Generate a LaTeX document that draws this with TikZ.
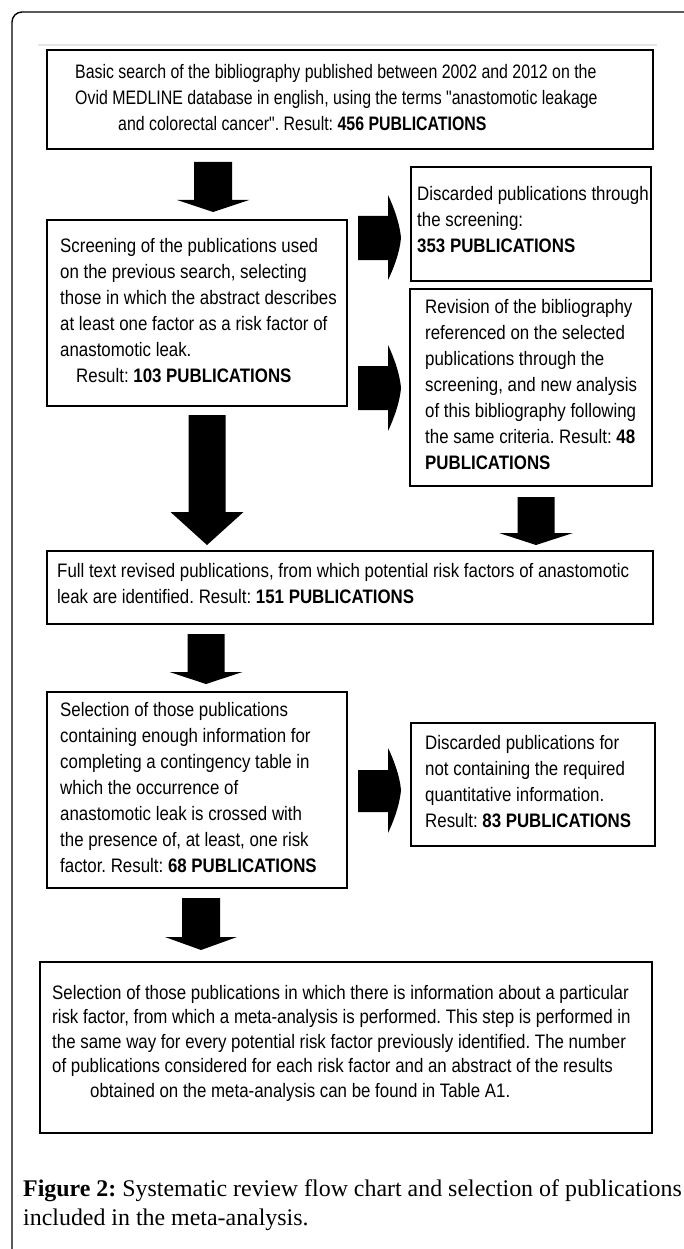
\documentclass[tikz,border=0pt]{standalone}
\usepackage{fontspec}
\newfontfamily\boxfont{Liberation Sans}[FakeStretch=0.865]
\newfontfamily\topboxfont{Liberation Sans}[FakeStretch=0.815]
\newfontfamily\capfont{Liberation Serif}
\frenchspacing
\tikzset{
  bx/.style={draw=black, line width=2.6pt, rectangle, inner sep=0pt},
  tx/.style={anchor=west, align=left, inner sep=0pt, font=\boxfont\fontsize{19.5}{26}\selectfont},
  captxt/.style={anchor=base west, inner sep=0pt, font=\capfont\fontsize{23.9}{30}\selectfont},
  blk/.style={fill=black},
}
\newcommand\blockdown[7]{% name, x, top, head base, tip, shaft half, head half
  \coordinate (#1s) at (#2,#3);
  \coordinate (#1e) at (#2,#5);
  \fill[blk] ({#2-#6},#3) -- ({#2+#6},#3) -- ({#2+#6},#4) -- ({#2+#7},#4) -- (#1e)
    -- ({#2-#7},#4) -- ({#2-#6},#4) -- cycle;}
\newcommand\blockright[9]{% name, shaft left x, head base x, tip x, shaft top, shaft bottom, head top, head bottom, tip y
  \coordinate (#1s) at (#2,{(#5+#6)/2});
  \coordinate (#1e) at (#4,#9);
  \fill[blk] (#2,#5) -- (#3,#5) -- (#3,#7)
    .. controls ({#3+0.4*(#4-#3)},{#7+0.25*(#9-#7)}) and ({#3+0.9*(#4-#3)},{#7+0.65*(#9-#7)}) .. (#1e)
    .. controls ({#3+0.9*(#4-#3)},{#9+0.35*(#8-#9)}) and ({#3+0.4*(#4-#3)},{#9+0.75*(#8-#9)}) .. (#3,#8)
    -- (#3,#6) -- (#2,#6) -- cycle;}
\begin{document}
\begin{tikzpicture}[x=1pt,y=-1pt]
\useasboundingbox (0,0) rectangle (683,1249);
\fill[white] (0,0) rectangle (683,1249);
% outer frame
\draw[line width=1.4pt, rounded corners=10pt] (12,1260) -- (12,12) -- (690,12);
\draw[black!10, line width=2pt] (38,45) -- (657,45);

% boxes
\node[bx, minimum width=606pt, minimum height=99pt] (b1) at (350,99.5) {};
\node[tx, font=\topboxfont\fontsize{19.5}{26}\selectfont] (t1) at (75,97.5) {Basic search of the bibliography published between 2002 and 2012 on the\\
Ovid MEDLINE database in english, using the terms "anastomotic leakage\\
\hspace*{43pt}and colorectal cancer". Result: \textbf{456 PUBLICATIONS}};

\node[bx, minimum width=300pt, minimum height=186pt] (b2) at (197,313) {};
\node[tx] (t2) at (60,311) {Screening of the publications used\\
on the previous search, selecting\\
those in which the abstract describes\\
at least one factor as a risk factor of\\
anastomotic leak.\\
\hspace*{16pt}Result: \textbf{103 PUBLICATIONS}};

\node[bx, minimum width=240pt, minimum height=114pt] (b3) at (531,224) {};
\node[tx] (t3) at (417,219.5) {Discarded publications through\\
the screening:\\
\textbf{353 PUBLICATIONS}};

\node[bx, minimum width=242pt, minimum height=197pt] (b4) at (531,387.5) {};
\node[tx] (t4) at (425,384.5) {Revision of the bibliography\\
referenced on the selected\\
publications through the\\
screening, and new analysis\\
of this bibliography following\\
the same criteria. Result: \textbf{48}\\
\textbf{PUBLICATIONS}};

\node[bx, minimum width=606pt, minimum height=73pt] (b5) at (350,587.5) {};
\node[tx] (t5) at (57,584) {Full text revised publications, from which potential risk factors of anastomotic\\
leak are identified. Result: \textbf{151 PUBLICATIONS}};

\node[bx, minimum width=300pt, minimum height=196pt] (b6) at (197,790) {};
\node[tx] (t6) at (60,788) {Selection of those publications\\
containing enough information for\\
completing a contingency table in\\
which the occurrence of\\
anastomotic leak is crossed with\\
the presence of, at least, one risk\\
factor. Result: \textbf{68 PUBLICATIONS}};

\node[bx, minimum width=244pt, minimum height=123pt] (b7) at (533,784.5) {};
\node[tx] (t7) at (425,781.5) {Discarded publications for\\
not containing the required\\
quantitative information.\\
Result: \textbf{83 PUBLICATIONS}};

\node[bx, minimum width=612pt, minimum height=171pt] (b8) at (346,1047.5) {};
\node[tx, font=\boxfont\fontsize{19.5}{24.5}\selectfont] (t8) at (52,1043) {Selection of those publications in which there is information about a particular\\
risk factor, from which a meta-analysis is performed. This step is performed in\\
the same way for every potential risk factor previously identified. The number\\
of publications considered for each risk factor and an abstract of the results\\
\hspace*{38pt}obtained on the meta-analysis can be found in Table A1.};

% block arrows
\blockdown{a1}{213}{162}{200}{212}{19}{36}
\blockdown{a2}{207}{415}{512}{545}{18.5}{36.5}
\blockdown{a3}{536}{497}{533}{545}{18.5}{37}
\blockdown{a4}{206}{634}{672}{684}{18.5}{36.5}
\blockdown{a5}{201}{898}{937}{950}{19}{36}
\blockright{r1}{358}{388}{401}{216}{260}{195}{280}{238}
\blockright{r2}{358}{388}{401}{366}{410}{345}{431}{388}
\blockright{r3}{358}{388}{401}{770}{812}{748}{833}{790}

% caption
\node[captxt] (c1) at (23,1196) {\textbf{Figure 2:} Systematic review flow chart and selection of publications};
\node[captxt] (c2) at (23,1225) {included in the meta-analysis.};
\end{tikzpicture}
\end{document}
